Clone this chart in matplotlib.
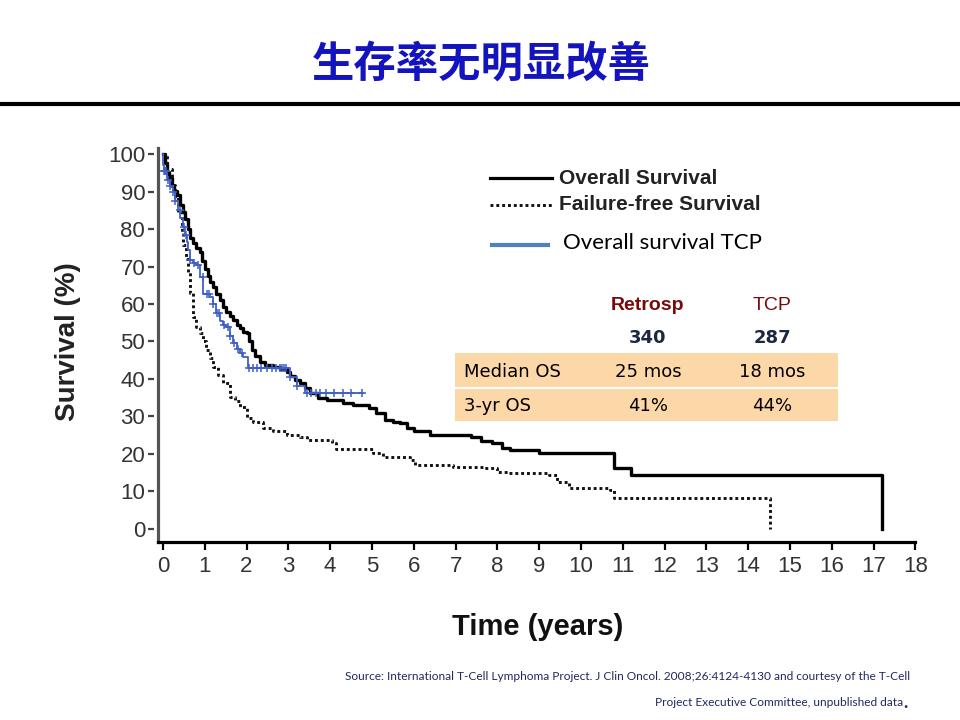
import numpy as np
import matplotlib
matplotlib.use("Agg")
from matplotlib import pyplot as plt
from matplotlib.lines import Line2D
from matplotlib.patches import Rectangle

# overall survival (retrospective), Kaplan-Meier steps: years / %
os_t = [0, 0.05, 0.09, 0.15, 0.21, 0.27, 0.33, 0.4, 0.47, 0.53, 0.59, 0.65, 0.72, 0.8,
        0.89, 0.94, 1.0, 1.07, 1.13, 1.2, 1.28, 1.36, 1.44, 1.52, 1.6, 1.68, 1.76, 1.85,
        1.92, 2.0, 2.06, 2.12, 2.2, 2.32, 2.45, 2.64, 2.8, 2.96, 3.04, 3.15, 3.28, 3.4,
        3.52, 3.7, 3.92, 4.3, 4.55, 4.93, 5.1, 5.32, 5.5, 5.67, 5.85, 6.0, 6.4, 7.38,
        7.6, 7.87, 8.1, 8.3, 9.0, 10.8, 11.19, 17.2]
os_v = [100, 97.5, 95.3, 93.5, 91.5, 90.2, 89, 86.5, 84.5, 82.8, 80, 77.5, 76.2, 75,
        74, 71.5, 69.3, 67.5, 66, 64.6, 62.8, 61, 59.3, 58, 56.8, 55.7, 54.5, 53.5,
        52.6, 52.2, 50, 47.7, 46.2, 44.6, 43.8, 43.3, 42.6, 41.9, 40.8, 39.8, 38.8, 37.5,
        36.2, 35, 34.4, 33.5, 33, 32.2, 31, 29.1, 28.5, 28.3, 27, 26, 25.1, 24.6,
        23.5, 22.8, 21.5, 21, 20.2, 16.2, 14.4, 0]

# failure-free survival
ffs_t = [0, 0.1, 0.21, 0.3, 0.37, 0.45, 0.49, 0.55, 0.61, 0.65, 0.72, 0.8, 0.89, 0.96,
         1.04, 1.12, 1.2, 1.32, 1.44, 1.6, 1.72, 1.84, 2.0, 2.16, 2.4, 2.64, 2.96, 3.28,
         3.44, 4.05, 4.15, 5.03, 5.27, 5.9, 6.03, 6.95, 7.66, 8.0, 8.26, 9.23, 9.43,
         9.72, 10.7, 10.8, 14.52]
ffs_v = [100, 96, 91.7, 88, 84.6, 79, 75.7, 72, 68.6, 63, 56.6, 54, 52.2, 50,
         47.7, 45.5, 43.3, 41, 38.8, 35.3, 34, 32.6, 29.5, 28.5, 27, 26, 25, 24.4,
         23.7, 22.8, 21.3, 20.2, 19.3, 18.4, 17.1, 16.6, 16.2, 15.3, 14.8, 14.4, 12.6,
         10.8, 10.4, 8.2, 0]

# overall survival TCP
tcp_t = [0, 0.01, 0.02, 0.09, 0.16, 0.24, 0.29, 0.35, 0.41, 0.47, 0.52, 0.57, 0.61, 0.65,
         0.72, 0.8, 0.88, 0.96, 1.12, 1.2, 1.28, 1.36, 1.44, 1.52, 1.6, 1.68, 1.76, 1.84,
         1.92, 2.04, 3.04, 3.2, 3.4, 4.79]
tcp_v = [100, 97, 95.5, 93, 91.5, 90, 87.5, 85, 83, 80.5, 78.5, 76.6, 74.4, 71.7,
         71, 70.4, 67.3, 62.8, 62, 60, 57.5, 55.5, 54.5, 54, 51.5, 49.5, 48, 46.8,
         45.9, 42.8, 40.6, 38, 36.2, 36.2]
tcp_cens = [0.02, 0.05, 0.08, 0.12, 0.18, 0.25, 0.3, 0.4, 0.5, 0.55, 0.65, 0.75, 0.85,
            0.95, 1.05, 1.1, 1.2, 1.3, 1.35, 1.45, 1.55, 1.6, 1.7, 1.8, 1.9, 2.05, 2.15,
            2.25, 2.35, 2.5, 2.6, 2.7, 2.8, 2.85, 2.9, 2.95, 3.05, 3.2, 3.45, 3.55, 3.65,
            3.75, 3.9, 4.1, 4.3, 4.5, 4.75]

legend_labels = ["Overall Survival", "Failure-free Survival", "Overall survival TCP"]
col_heads = ["Retrosp", "TCP"]
col_n = ["340", "287"]
row_names = ["Median OS", "3-yr OS"]
table_vals = [["25 mos", "18 mos"], ["41%", "44%"]]

title = "生存率无明显改善"
source1 = "Source: International T-Cell Lymphoma Project. J Clin Oncol. 2008;26:4124-4130 and courtesy of the T-Cell"
source2 = "Project Executive Committee, unpublished data"

W, H = 960, 720
def px(x, y):
    return x / W, 1 - y / H

fig = plt.figure(figsize=(9.6, 7.2), dpi=100)
fig.patch.set_facecolor("white")

fig.text(*px(481, 65), title, ha="center", va="center", fontsize=30.5, fontweight="bold",
         color="#1414bf", family=["Noto Sans CJK SC", "DejaVu Sans"])
fig.add_artist(Line2D([0, 1], [1 - 104 / H] * 2, color="black", lw=3, transform=fig.transFigure))

ax = fig.add_axes([0.1606, 0.2471, 0.7951, 0.5473])
ax.set_xlim(-0.21, 18.05)
ax.set_ylim(-3.5, 101.6)

ax.plot(os_t, os_v, drawstyle="steps-post", color="black", lw=2.4)
ax.plot(ffs_t, ffs_v, drawstyle="steps-post", color="#111111", lw=2.1, linestyle=(0, (1, 1)))
ax.plot(tcp_t, tcp_v, drawstyle="steps-post", color="#3f5fc8", lw=1.3)
idx = np.searchsorted(tcp_t, tcp_cens, side="right") - 1
ax.plot(tcp_cens, np.array(tcp_v)[idx], linestyle="none", marker="+", ms=6, mew=1.1, color="#3f5fc8")

for s in ["top", "right", "left"]:
    ax.spines[s].set_visible(False)
ax.spines["bottom"].set_bounds(-0.12, 18)
ax.spines["bottom"].set_linewidth(2.3)
ax.axvline(-0.12, ymin=0, ymax=1, color="#555555", lw=2.3, clip_on=False)

ax.set_xticks(range(0, 19))
ax.set_yticks(range(0, 101, 10))
ax.tick_params(axis="x", length=6, width=1.6, pad=4, labelsize=16, labelcolor="#333333")
ax.tick_params(axis="y", length=4.5, width=1.6, pad=2, labelsize=16, labelcolor="#333333",
               color="#444444")
for lab in ax.get_xticklabels() + ax.get_yticklabels():
    lab.set_family("Liberation Sans")

fig.text(*px(68, 342), "Survival (%)", rotation=90, ha="center", va="center",
         fontsize=20, fontweight="bold", family="Liberation Sans", color="#222222")
fig.text(*px(538, 627), "Time (years)", ha="center", va="center",
         fontsize=21, fontweight="bold", family="Liberation Sans", color="#111111")

# legend
fig.add_artist(Line2D([490 / W, 552 / W], [1 - 178 / H] * 2, color="black", lw=2.3,
                      transform=fig.transFigure))
fig.add_artist(Line2D([490 / W, 552 / W], [1 - 205 / H] * 2, color="#111111", lw=2.1,
                      linestyle=(0, (1, 1)), transform=fig.transFigure))
fig.add_artist(Line2D([492 / W, 548 / W], [1 - 245 / H] * 2, color="#4f81bd", lw=3,
                      transform=fig.transFigure))
fig.text(*px(559, 178), legend_labels[0], ha="left", va="center", fontsize=15,
         fontweight="bold", family="Liberation Sans", color="#222222")
fig.text(*px(559, 205), legend_labels[1], ha="left", va="center", fontsize=15,
         fontweight="bold", family="Liberation Sans", color="#222222")
fig.text(*px(563, 243), legend_labels[2], ha="left", va="center", fontsize=16,
         family="Lato", color="black")

# summary table
fig.add_artist(Rectangle(px(455, 421), 383 / W, 68 / H, transform=fig.transFigure,
                         facecolor="#fcd7a8", edgecolor="none"))
fig.add_artist(Line2D([455 / W, 838 / W], [1 - 388 / H] * 2, color="white", lw=1.5,
                      transform=fig.transFigure))
col_x = [648, 772]
fig.text(*px(col_x[0], 305), col_heads[0], ha="center", va="center", fontsize=14,
         fontweight="bold", family="Liberation Sans", color="#7a0a0a")
fig.text(*px(col_x[1], 305), col_heads[1], ha="center", va="center", fontsize=14,
         family="Liberation Sans", color="#7a0a0a")
for j in range(2):
    fig.text(*px(col_x[j], 338), col_n[j], ha="center", va="center", fontsize=13,
             fontweight="bold", family="DejaVu Sans", color="#1c2740")
row_y = [372, 406]
for i in range(2):
    fig.text(*px(464, row_y[i]), row_names[i], ha="left", va="center", fontsize=13,
             family="DejaVu Sans", color="black")
    for j in range(2):
        fig.text(*px(col_x[j], row_y[i]), table_vals[i][j], ha="center", va="center",
                 fontsize=13, family="DejaVu Sans", color="black")

# source
fig.text(*px(910, 677), source1, ha="right", va="center", fontsize=8.6, family="Lato",
         color="#1f2a60")
fig.text(*px(903, 703), source2, ha="right", va="center", fontsize=8.6, family="Lato",
         color="#1f2a60")
fig.text(*px(903, 703), ".", ha="left", va="center", fontsize=13, fontweight="bold",
         family="Lato", color="#1f2a60")

fig.savefig("out.png", dpi=100)
